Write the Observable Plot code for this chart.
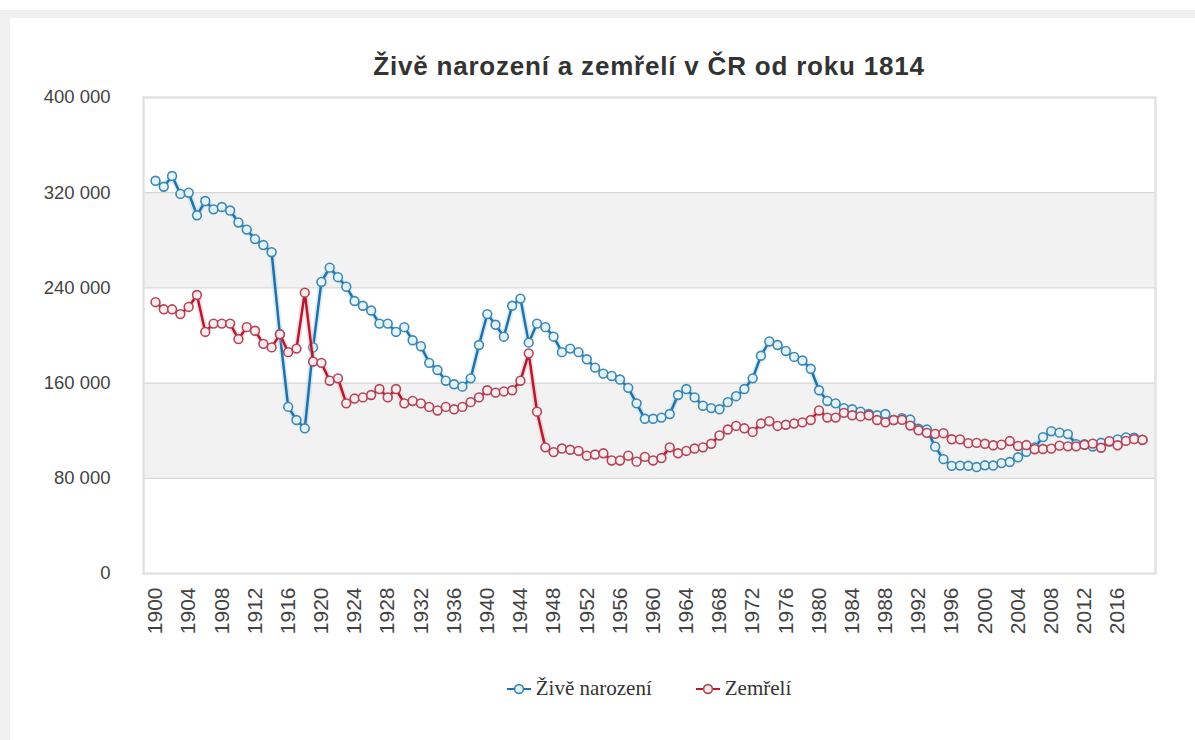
<!DOCTYPE html>
<html>
<head>
<meta charset="utf-8">
<script src="https://cdn.jsdelivr.net/npm/d3@7"></script>
<script src="https://cdn.jsdelivr.net/npm/@observablehq/plot@0.6"></script>
<style>
  html, body { margin: 0; padding: 0; background: #ffffff; width: 1195px; height: 740px; overflow: hidden; }
  #frameTop { position: absolute; left: 0; top: 10px; width: 1195px; height: 8px; background: #f0f0f0; }
  #frameLeft { position: absolute; left: 0; top: 10px; width: 10px; height: 730px; background: #f0f0f0; }
  #title { position: absolute; left: 143px; width: 1012px; top: 51px; text-align: center;
           font-family: "Liberation Sans", Arial, sans-serif; font-weight: bold; font-size: 26px; letter-spacing: 0.8px; color: #333; }
  #chart { position: absolute; left: 0; top: 80px; }
  #legend { position: absolute; left: 143px; width: 1012px; top: 676px; display: flex; justify-content: center; gap: 44px;
            font-family: "Liberation Serif", "Times New Roman", serif; font-size: 21px; color: #333; }
  .item { display: flex; align-items: center; gap: 5px; }
</style>
</head>
<body>
<div id="frameTop"></div>
<div id="frameLeft"></div>
<div id="title">Živě narození a zemřelí v ČR od roku 1814</div>
<div id="chart"></div>
<div id="legend"></div>
<script>
// ---- data ----
const years = [
  1900,1901,1902,1903,1904,1905,1906,1907,1908,1909,
  1910,1911,1912,1913,1914,1915,1916,1917,1918,1919,
  1920,1921,1922,1923,1924,1925,1926,1927,1928,1929,
  1930,1931,1932,1933,1934,1935,1936,1937,1938,1939,
  1940,1941,1942,1943,1944,1945,1946,1947,1948,1949,
  1950,1951,1952,1953,1954,1955,1956,1957,1958,1959,
  1960,1961,1962,1963,1964,1965,1966,1967,1968,1969,
  1970,1971,1972,1973,1974,1975,1976,1977,1978,1979,
  1980,1981,1982,1983,1984,1985,1986,1987,1988,1989,
  1990,1991,1992,1993,1994,1995,1996,1997,1998,1999,
  2000,2001,2002,2003,2004,2005,2006,2007,2008,2009,
  2010,2011,2012,2013,2014,2015,2016,2017,2018,2019
];
const births = [
  330000,325000,334000,319000,320000,301000,313000,306000,308000,305000,
  295000,289000,281000,276000,270000,201000,140000,129000,122000,190000,
  245000,257000,249000,241000,229000,225000,221000,210000,210000,203000,
  207000,196000,191000,177000,171000,162000,159000,157000,164000,192000,
  218000,209000,199000,225000,231000,194000,210000,207000,199000,186000,
  189000,186000,180000,173000,168000,166000,163000,156000,143000,130000,
  130000,131000,134000,150000,155000,148000,141000,139000,138000,144000,
  149000,155000,164000,183000,195000,192000,187000,182000,179000,172000,
  154000,145000,143000,139000,138000,136000,134000,133000,134000,129000,
  130564,129354,121705,121025,106579,96097,90446,90657,90535,89471,
  90910,90715,92786,93685,97664,102211,105831,114632,119570,118348,
  117153,108673,108576,106751,109860,110764,112663,114405,114036,112231
];
const deaths = [
  228000,222000,222000,218000,224000,234000,203000,210000,210000,210000,
  197000,207000,204000,193000,190000,201000,186000,189000,236000,178000,
  177000,162000,164000,143000,147000,148000,150000,155000,148000,155000,
  143000,145000,143000,140000,137000,140000,138000,140000,144000,148000,
  154000,152000,153000,154000,162000,185000,136000,106000,102000,105000,
  104000,103000,99000,100000,101000,95000,95000,99000,94000,98000,
  95000,97000,106000,101000,103000,105000,106000,109000,116000,121000,
  124000,122000,119000,126000,128000,124000,125000,126000,127000,129000,
  137000,131000,131000,135000,133000,132000,133000,129000,127000,129000,
  129166,124290,120337,118185,117373,117913,112782,112744,109527,109768,
  109001,107755,108243,111288,107177,107938,104441,104636,104948,107421,
  106844,106848,108189,109160,105665,111173,107750,111443,112920,112362
];
const xTicks = [1900,1904,1908,1912,1916,1920,1924,1928,1932,1936,1940,1944,1948,1952,1956,
                1960,1964,1968,1972,1976,1980,1984,1988,1992,1996,2000,2004,2008,2012,2016];
const yTicks = [0,80000,160000,240000,320000,400000];
const bandLo = [80000,240000];
const bandHi = [160000,320000];
const seriesNames = ["Živě narození","Zemřelí"];

// ---- build ----
const rows = years.map((y,i)=>({year:y, births:births[i], deaths:deaths[i]}));
const bands = bandLo.map((lo,i)=>({lo, hi:bandHi[i]}));
const fmt = d3.formatLocale({decimal:",", thousands:" ", grouping:[3], currency:["",""]}).format(",d");

const blue = {line:"#246fa8", halo:"#8fd0f0", dotStroke:"#3f87b3", dotFill:"#e3f5fb"};
const red  = {line:"#b3192f", halo:"#f2a0ab", dotStroke:"#b04656", dotFill:"#fdecef"};

const chart = Plot.plot({
  width: 1195,
  height: 580,
  marginLeft: 143,
  marginRight: 40,
  marginTop: 17,
  marginBottom: 87,
  style: {fontFamily: '"Liberation Sans", Arial, sans-serif', color: "#444", background: "transparent"},
  x: {domain: [1900, 2019], insetLeft: 12, insetRight: 13, label: null},
  y: {domain: [0, 400000], label: null},
  marks: [
    Plot.rectY(bands, {y1: "lo", y2: "hi", fill: "#f2f2f2"}),
    Plot.ruleY(yTicks.filter(d => d > 0), {stroke: "#cfcfcf", strokeWidth: 1}),
    Plot.frame({stroke: "#e2e2e2", strokeWidth: 2.5}),
    Plot.axisY({ticks: yTicks, tickFormat: fmt, tickSize: 0, tickPadding: 33, fontSize: 18.5, label: null}),
    Plot.axisX({ticks: xTicks, tickFormat: d => String(d), tickRotate: -90, tickSize: 0, tickPadding: 14, fontSize: 21, label: null}),
    Plot.line(rows, {x: "year", y: "births", stroke: blue.halo, strokeWidth: 6, strokeOpacity: 0.35}),
    Plot.line(rows, {x: "year", y: "births", stroke: blue.line, strokeWidth: 2.5}),
    Plot.dot(rows, {x: "year", y: "births", r: 4.4, fill: blue.dotFill, stroke: blue.dotStroke, strokeWidth: 1.6}),
    Plot.line(rows, {x: "year", y: "deaths", stroke: red.halo, strokeWidth: 6, strokeOpacity: 0.35}),
    Plot.line(rows, {x: "year", y: "deaths", stroke: red.line, strokeWidth: 2.5}),
    Plot.dot(rows, {x: "year", y: "deaths", r: 4.4, fill: red.dotFill, stroke: red.dotStroke, strokeWidth: 1.6})
  ]
});
document.getElementById("chart").appendChild(chart);

// legend
const legend = d3.select("#legend");
[[seriesNames[0], blue], [seriesNames[1], red]].forEach(([name, c]) => {
  const it = legend.append("div").attr("class", "item");
  const s = it.append("svg").attr("width", 24).attr("height", 14);
  s.append("line").attr("x1", 0).attr("x2", 24).attr("y1", 7).attr("y2", 7).attr("stroke", c.line).attr("stroke-width", 2);
  s.append("circle").attr("cx", 12).attr("cy", 7).attr("r", 4.4).attr("fill", c.dotFill).attr("stroke", c.dotStroke).attr("stroke-width", 1.6);
  it.append("span").text(name);
});
</script>
</body>
</html>
